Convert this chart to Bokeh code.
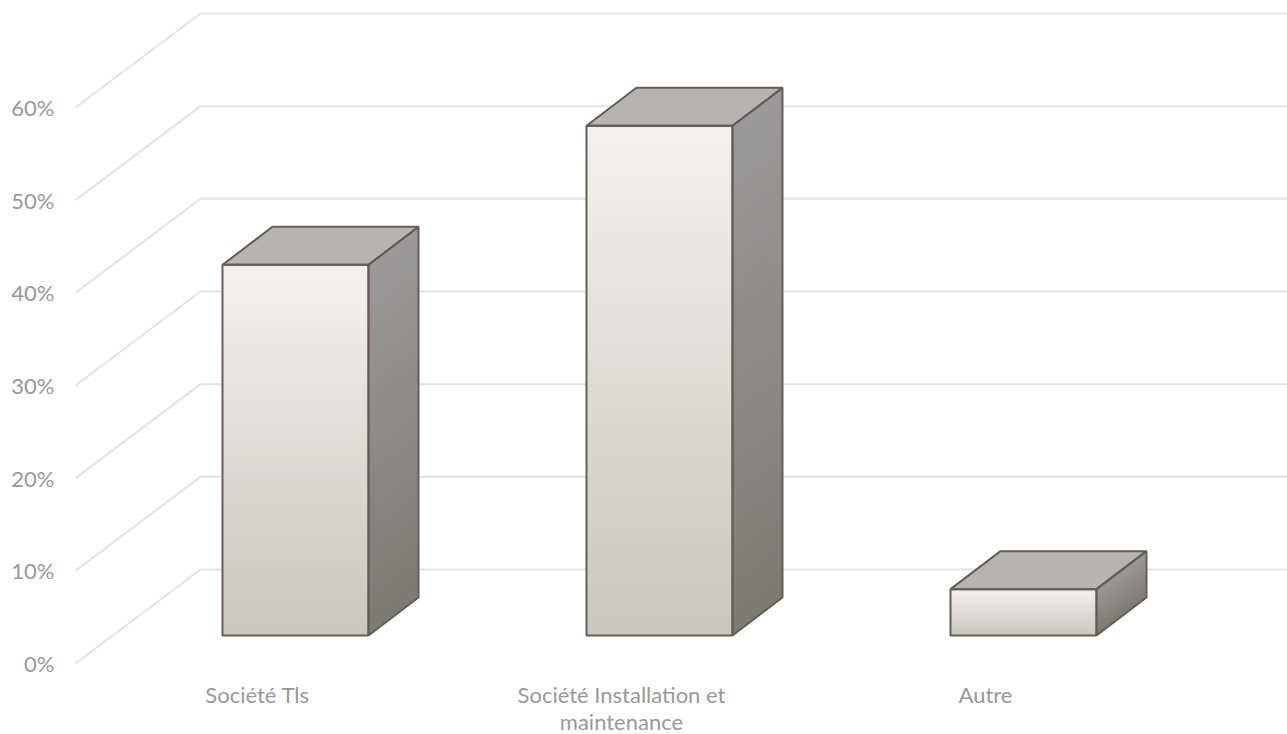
from bokeh.plotting import figure
from bokeh.models import FixedTicker, Range1d
from bokeh.embed import file_html
from bokeh.resources import INLINE

categories = ["Société Tls", "Société Installation et\nmaintenance", "Autre"]
values = [40, 55, 5]
ticks = [0, 10, 20, 30, 40, 50, 60]

# layout constants, in page pixels of the reference
W, H = 1287, 734
L = 60
PX_CAT = 364.0
PX_VAL = 9.267
X0 = 75.0   # front plane left
Y0 = 663.0  # front plane zero
LABEL_Y = 675.0

def lerp_color(c1, c2, t):
    return "#%02x%02x%02x" % tuple(round(a + (b - a) * t) for a, b in zip(c1, c2))

p = figure(width=W, height=H, output_backend="svg", toolbar_location=None,
           min_border_left=L, min_border_right=0, min_border_top=0, min_border_bottom=0,
           outline_line_color=None, background_fill_color=None, border_fill_color="white")

def cx(px):
    return (px - X0) / PX_CAT - 0.5

p.x_range = Range1d(cx(L), cx(W))
p.y_range = Range1d((Y0 - H) / PX_VAL, Y0 / PX_VAL)
p.grid.visible = False

DX_WALL = 125 / PX_CAT
DV_WALL = 94 / PX_VAL
BAR_W = 146 / PX_CAT
BAR_DX = 38 / PX_CAT       # front of the bar, from the front plane
BAR_BASE = 28 / PX_VAL
DEPTH_X = 50 / PX_CAT
DEPTH_V = 38 / PX_VAL
GRID = "#e3e3e3"
EDGE = "#675e52"

wall_left = cx(200)
wall_right = cx(W)
for v in ticks:
    p.line([wall_left - DX_WALL, wall_left], [v, v + DV_WALL], line_color=GRID, line_width=2)
for v in ticks:
    p.line([wall_left, wall_right], [v + DV_WALL, v + DV_WALL], line_color=GRID, line_width=2)

F_TOP, F_BOT = (243, 241, 239), (201, 197, 191)
S_TOP, S_BOT = (155, 153, 153), (125, 122, 116)
N = 48

for i, val in enumerate(values):
    x0 = i + BAR_DX - BAR_W / 2
    x1 = x0 + BAR_W
    b = BAR_BASE
    t = BAR_BASE + val
    # side face
    for k in range(N):
        f = k / N
        v = t - (t - b) * f
        p.patch([x1, x1 + DEPTH_X, x1 + DEPTH_X, x1],
                [v, v + DEPTH_V, b + DEPTH_V, b],
                fill_color=lerp_color(S_TOP, S_BOT, f), line_color=None)
    # front face
    for k in range(N):
        f = k / N
        v = t - (t - b) * f
        p.patch([x0, x1, x1, x0], [v, v, b, b],
                fill_color=lerp_color(F_TOP, F_BOT, f), line_color=None)
    # top face
    p.patch([x0, x1, x1 + DEPTH_X, x0 + DEPTH_X], [t, t, t + DEPTH_V, t + DEPTH_V],
            fill_color="#b6b4b2", line_color=EDGE, line_width=2)
    # outlines
    p.patch([x0, x1, x1, x0], [b, b, t, t], fill_color=None, line_color=EDGE, line_width=2)
    p.patch([x1, x1 + DEPTH_X, x1 + DEPTH_X, x1], [b, b + DEPTH_V, t + DEPTH_V, t],
            fill_color=None, line_color=EDGE, line_width=2)

FONT = "Lato"
TXT = "#999999"

ya = p.yaxis[0]
ya.ticker = FixedTicker(ticks=ticks)
ya.major_label_overrides = {v: f"{v}%" for v in ticks}
ya.axis_line_color = None
ya.major_tick_line_color = None
ya.minor_tick_line_color = None
ya.major_tick_out = 0
ya.minor_tick_out = 0
ya.major_label_text_font = FONT
ya.major_label_text_font_size = "22px"
ya.major_label_text_color = TXT
ya.major_label_standoff = 6

xa = p.xaxis[0]
xa.ticker = FixedTicker(ticks=[0, 1, 2])
xa.major_label_overrides = {i: c for i, c in enumerate(categories)}
xa.axis_line_color = None
xa.major_tick_line_color = None
xa.minor_tick_line_color = None
xa.major_tick_out = 0
xa.minor_tick_out = 0
xa.major_label_text_font = FONT
xa.major_label_text_font_size = "22px"
xa.major_label_text_line_height = 1.0
xa.major_label_text_color = TXT
xa.major_label_standoff = 5
xa.fixed_location = (Y0 - LABEL_Y) / PX_VAL

open("out.html", "w").write(file_html(p, INLINE))
